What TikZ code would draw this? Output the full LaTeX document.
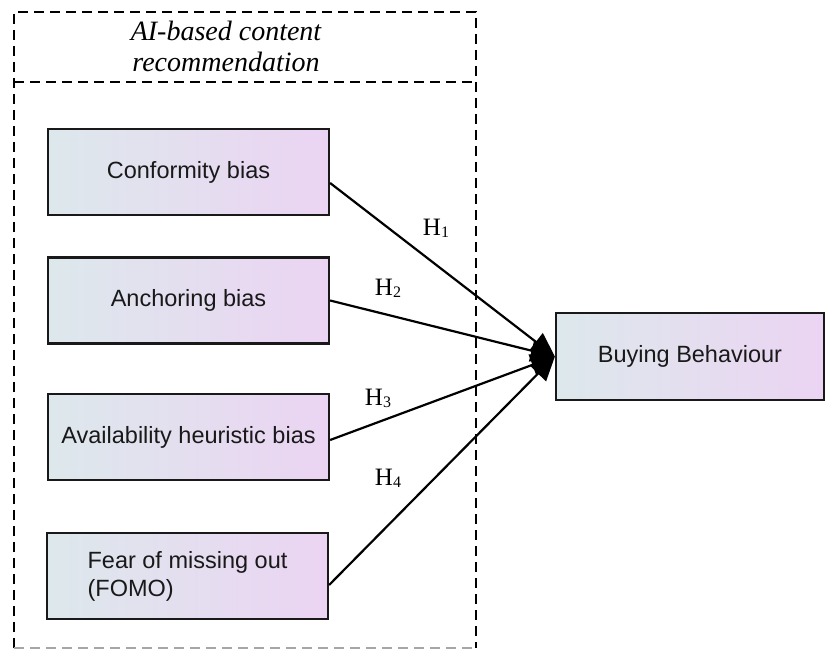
\documentclass[tikz,border=0pt]{standalone}
\usepackage{fontspec}
\setmainfont{Liberation Serif}
\setsansfont{Liberation Sans}
\usetikzlibrary{arrows.meta,calc}
\definecolor{boxleft}{RGB}{221,232,236}
\definecolor{boxright}{RGB}{235,212,243}
\definecolor{edge}{RGB}{25,25,25}
\newcommand{\hyp}[1]{H\raisebox{-2pt}{\fontsize{16}{16}\selectfont #1}}
\begin{document}
\begin{tikzpicture}[x=1pt,y=-1pt,
  factor/.style={draw=edge,line width=2.2pt,left color=boxleft,right color=boxright,
    minimum width=281pt,minimum height=86pt,inner sep=0pt,
    font=\sffamily\fontsize{23.5}{28}\selectfont,text=black!90},
  frame/.style={line width=2.2pt,dash pattern=on 10pt off 6pt},
  link/.style={line width=2.2pt,-{Triangle[length=24pt,width=22pt]}},
  hlabel/.style={font=\fontsize{25}{25}\selectfont,inner sep=0pt}]
\useasboundingbox (0,0) rectangle (825,650);

% dashed frame around the four biases with its heading strip
\draw[frame] (14,648) -- (14,12) -- (476,12) -- (476,648);
\draw[frame,gray!70] (14,648) -- (476,648);
\draw[frame] (14,82) -- (476,82);
\node[font=\itshape\fontsize{28}{31}\selectfont,align=center] (title) at (226,46)
  {AI-based content\\recommendation};

% independent variables
\node[factor] (conf) at (188.5,172) {Conformity bias};
\node[factor] (anch) at (188.5,300.5) {Anchoring bias};
\node[factor] (avail) at (188.5,437) {Availability heuristic bias};
\node[factor,align=left] (fomo) at (187.5,576) {Fear of missing out\\(FOMO)};

% dependent variable
\node[factor,minimum width=268pt,minimum height=87pt] (buy) at (690,356.5) {Buying Behaviour};

% hypothesised paths
\draw[link] ([yshift=-11pt]conf.east) -- (buy.west);
\draw[link] (anch.east) -- (buy.west);
\draw[link] ([yshift=-3pt]avail.east) -- (buy.west);
\draw[link] ([yshift=-9pt]fomo.east) -- (buy.west);

\node[hlabel] (h1) at (436,228) {\hyp{1}};
\node[hlabel] (h2) at (388,288) {\hyp{2}};
\node[hlabel] (h3) at (378,398) {\hyp{3}};
\node[hlabel] (h4) at (388,478) {\hyp{4}};
\end{tikzpicture}
\end{document}
